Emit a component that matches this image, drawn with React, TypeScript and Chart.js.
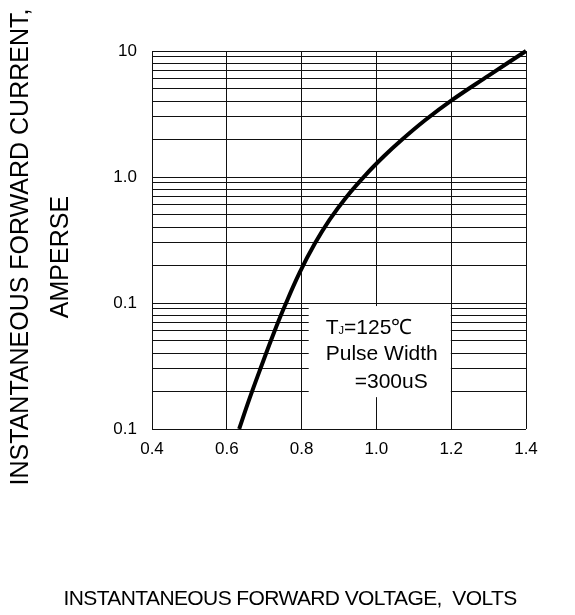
import React, { useEffect, useRef } from "react";
import { Chart, registerables } from "chart.js";

Chart.register(...registerables);

// Forward characteristic (V, A)
const voltage = [0.633, 0.66, 0.694, 0.725, 0.755, 0.795, 0.835, 0.875, 0.92, 0.972, 1.02, 1.065, 1.13, 1.2, 1.3, 1.4];
const current = [0.01, 0.0172, 0.0325, 0.0571, 0.0946, 0.175, 0.295, 0.459, 0.695, 1.045, 1.46, 1.94, 2.82, 4.04, 6.38, 10];

const xTickValues = [0.4, 0.6, 0.8, 1.0, 1.2, 1.4];
const xTickLabels = ["0.4", "0.6", "0.8", "1.0", "1.2", "1.4"];
const yDecades = [0.01, 0.1, 1, 10];
const yTickLabels = ["0.1", "0.1", "1.0", "10"];
const yMinorSteps = [1, 2, 3, 4, 5, 6, 7, 8, 9];

const yTitleLine1 = "INSTANTANEOUS FORWARD CURRENT,";
const yTitleLine2 = "AMPERSE";
const xTitle = "INSTANTANEOUS FORWARD VOLTAGE,  VOLTS";

// note box, in data units
const noteBoxX = [0.819, 1.199];
const noteBoxY = [0.0946, 0.0179];
const noteTj = "125℃";
const noteLine2 = "Pulse Width";
const noteLine3 = "=300uS";

const FONT = "Arial, 'Liberation Sans', Helvetica, sans-serif";

const overlayPlugin = {
  id: "overlay",
  beforeDatasetsDraw(chart: any) {
    const { ctx, scales } = chart;
    const x0 = scales.x.getPixelForValue(noteBoxX[0]);
    const x1 = scales.x.getPixelForValue(noteBoxX[1]);
    const y0 = scales.y.getPixelForValue(noteBoxY[0]);
    const y1 = scales.y.getPixelForValue(noteBoxY[1]);
    ctx.save();
    ctx.fillStyle = "#fff";
    ctx.fillRect(x0, y0, x1 - x0, y1 - y0);
    ctx.fillStyle = "#000";
    ctx.textBaseline = "alphabetic";
    ctx.textAlign = "left";
    const lx = x0 + 17;
    ctx.font = `21px ${FONT}`;
    ctx.fillText("T", lx, y0 + 28);
    const tw = ctx.measureText("T").width;
    ctx.font = `11px ${FONT}`;
    ctx.fillText("J", lx + tw, y0 + 28);
    const jw = ctx.measureText("J").width;
    ctx.font = `21px ${FONT}`;
    ctx.fillText("=" + noteTj, lx + tw + jw, y0 + 28);
    ctx.fillText(noteLine2, lx, y0 + 54);
    ctx.fillText(noteLine3, x0 + 46, y0 + 82);
    ctx.restore();
  },
  afterDraw(chart: any) {
    const { ctx } = chart;
    ctx.save();
    ctx.fillStyle = "#000";
    ctx.textAlign = "center";
    ctx.textBaseline = "middle";
    // x title
    ctx.font = `21px ${FONT}`;
    (ctx as any).letterSpacing = "-0.6px";
    ctx.fillText(xTitle, 290, 599);
    // y title
    ctx.font = `25px ${FONT}`;
    (ctx as any).letterSpacing = "0px";
    ctx.translate(21, 247);
    ctx.rotate(-Math.PI / 2);
    ctx.fillText(yTitleLine1, 0, 0);
    ctx.restore();
    ctx.save();
    ctx.fillStyle = "#000";
    ctx.textAlign = "center";
    ctx.textBaseline = "middle";
    ctx.font = `25px ${FONT}`;
    ctx.translate(61, 257);
    ctx.rotate(-Math.PI / 2);
    ctx.fillText(yTitleLine2, 0, 0);
    ctx.restore();
  },
};

export default function App() {
  const ref = useRef<HTMLCanvasElement | null>(null);
  useEffect(() => {
    if (!ref.current) return;
    const chart = new Chart(ref.current, {
      type: "line",
      data: {
        datasets: [
          {
            data: voltage.map((v, i) => ({ x: v, y: current[i] })),
            borderColor: "#000",
            borderWidth: 4,
            pointRadius: 0,
            tension: 0.4,
            fill: false,
            clip: false as any,
          },
        ],
      },
      options: {
        animation: false,
        responsive: false,
        devicePixelRatio: 1,
        events: [],
        layout: { padding: { left: 0, top: 51, right: 49, bottom: 0 } },
        plugins: { legend: { display: false }, tooltip: { enabled: false } },
        scales: {
          x: {
            type: "linear",
            min: 0.4,
            max: 1.4,
            afterFit: (s: any) => {
              s.height = 186;
            },
            afterBuildTicks: (s: any) => {
              s.ticks = xTickValues.map((v) => ({ value: v }));
            },
            border: { display: false },
            grid: { color: "#111", lineWidth: 1, drawTicks: false },
            ticks: {
              padding: 10,
              color: "#000",
              maxRotation: 0,
              autoSkip: false,
              font: { family: FONT, size: 17 },
              callback: (_v: any, i: number) => xTickLabels[i],
            },
          },
          y: {
            type: "logarithmic",
            min: 0.01,
            max: 10,
            afterFit: (s: any) => {
              s.width = 152;
            },
            afterBuildTicks: (s: any) => {
              const t: any[] = [];
              yDecades.forEach((d, di) => {
                if (di === yDecades.length - 1) {
                  t.push({ value: d });
                } else {
                  yMinorSteps.forEach((k) => t.push({ value: d * k }));
                }
              });
              s.ticks = t;
            },
            border: { display: false },
            grid: { color: "#111", lineWidth: 1, drawTicks: false },
            ticks: {
              padding: 15,
              color: "#000",
              autoSkip: false,
              font: { family: FONT, size: 17 },
              callback: (v: any) => {
                const idx = yDecades.findIndex((d) => Math.abs(d - v) / d < 1e-6);
                return idx >= 0 ? yTickLabels[idx] : "";
              },
            },
          },
        },
      },
      plugins: [overlayPlugin],
    });
    return () => chart.destroy();
  }, []);
  return (
    <div style={{ position: "fixed", left: 0, top: 0, width: 575, height: 615, background: "#fff" }}>
      <canvas ref={ref} width={575} height={615} style={{ width: 575, height: 615 }} />
    </div>
  );
}
